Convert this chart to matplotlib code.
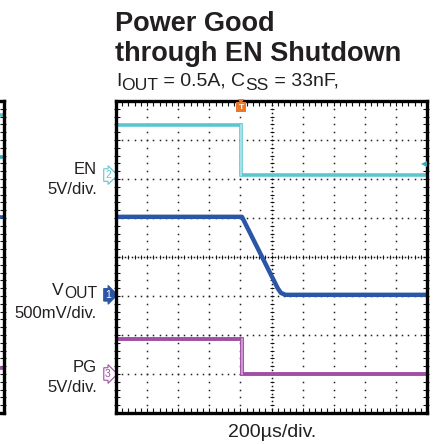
import numpy as np
import matplotlib.pyplot as plt

plt.rcParams['font.family'] = ['Liberation Sans', 'DejaVu Sans']

# scope traces, in divisions (x: 0..10, y: 0..8)
en_t = [0, 4.02, 4.02, 10]
en_v = [7.38, 7.38, 6.1, 6.1]
vout_t = [0, 4.05, 5.2, 5.3, 5.45, 10]
vout_v = [5.03, 5.03, 3.2, 3.08, 3.03, 3.03]
pg_t = [0, 4.05, 4.05, 10]
pg_v = [1.9, 1.9, 1.0, 1.0]
trig_t = 4.02

# channel reference markers (label, level)
ch_labels = ["2", "1", "3"]
ch_levels = [6.1, 3.03, 1.0]

# stubs of the neighbouring chart at the left edge
nb_levels = [7.64, 6.56, 5.03, 1.15]

CYAN = '#5cc6d0'
BLUE = '#2b55a6'
PURPLE = '#a04fa6'
ORANGE = '#e8782e'
INK = '#231f20'

W, H = 433, 444
fig = plt.figure(figsize=(W / 100, H / 100), dpi=100)
renderer = fig.canvas.get_renderer()


def rich_text(x, y, parts, size, ha='left', sub_scale=0.9, sub_dy=3.5):
    # parts: list of (string, is_subscript); x, y in pixels, y = baseline from top
    pieces = []
    for s, sub in parts:
        fs = size * sub_scale if sub else size
        t = fig.text(0, 0, s, fontsize=fs, va='baseline', ha='left', color=INK)
        w = t.get_window_extent(renderer).width
        pieces.append((t, w, sub))
    total = sum(w for _, w, _ in pieces)
    cx = x - total if ha == 'right' else x
    for t, w, sub in pieces:
        dy = sub_dy if sub else 0
        t.set_position((cx / W, 1 - (y + dy) / H))
        cx += w


ax = fig.add_axes([116 / W, (444 - 413) / H, 311 / W, 312 / H])
ax.set_xlim(0, 10)
ax.set_ylim(0, 8)
ax.set_xticks([])
ax.set_yticks([])
for s in ax.spines.values():
    s.set_linewidth(2.4)
    s.set_zorder(10)

# dotted graticule
step = 0.2
for gx in range(1, 10):
    if gx == 5:
        continue
    ys = np.arange(step, 8, step)
    ax.plot(np.full_like(ys, gx), ys, ls='none', marker='s', ms=1.1, mew=0, color='#222222')
for gy in range(1, 8):
    if gy == 4:
        continue
    xs = np.arange(step, 10, step)
    ax.plot(xs, np.full_like(xs, gy), ls='none', marker='s', ms=1.1, mew=0, color='#222222')

# centre cross: dense dots and tick marks
xs = np.arange(0.1, 10, 0.1)
ax.plot(xs, np.full_like(xs, 4), ls='none', marker='s', ms=1.1, mew=0, color='#111111')
ys = np.arange(0.1, 8, 0.1)
ax.plot(np.full_like(ys, 5), ys, ls='none', marker='s', ms=1.1, mew=0, color='#111111')
xs = np.arange(step, 10, step)
ax.plot(xs, np.full_like(xs, 4), ls='none', marker='|', ms=3.5, mew=0.7, color='#111111')
ys = np.arange(step, 8, step)
ax.plot(np.full_like(ys, 5), ys, ls='none', marker='_', ms=3.5, mew=0.7, color='#111111')

# inward ticks on the frame
xs = np.arange(step, 10, step)
ax.plot(xs, np.full_like(xs, 0.04), ls='none', marker='|', ms=4, mew=0.8, color='#111111', clip_on=False)
ax.plot(xs, np.full_like(xs, 7.96), ls='none', marker='|', ms=4, mew=0.8, color='#111111', clip_on=False)
ys = np.arange(step, 8, step)
ax.plot(np.full_like(ys, 0.03), ys, ls='none', marker='_', ms=4, mew=0.8, color='#111111', clip_on=False)
ax.plot(np.full_like(ys, 9.97), ys, ls='none', marker='_', ms=4, mew=0.8, color='#111111', clip_on=False)

# traces
ax.plot(en_t, en_v, color=CYAN, lw=2.6, solid_joinstyle='miter', zorder=5)
ax.plot(pg_t, pg_v, color=PURPLE, lw=2.8, solid_joinstyle='miter', zorder=5)
ax.plot(vout_t, vout_v, color=BLUE, lw=3.2, zorder=5)
ax.plot([en_t[1]] * 2, en_v[1:3], color='#b8e6ea', lw=1.2, zorder=6)
ax.plot([pg_t[1]] * 2, pg_v[1:3], color='#d6a6d8', lw=1.2, zorder=6)

# trigger and right-side level marker
ax.plot(trig_t, 7.84, marker='s', ms=7, color=ORANGE, mew=0, clip_on=False, zorder=12)
ax.text(trig_t, 7.84, 'T', color='white', fontsize=6, fontweight='bold',
        ha='center', va='center', zorder=13)
ax.plot(trig_t, 7.98, marker='v', ms=4, color=ORANGE, mew=0, clip_on=False, zorder=12)
ax.plot(9.9, 6.38, marker='<', ms=5, color='#3aa8b2', mew=0, zorder=12)

# channel markers
styles = [(CYAN, 'white', CYAN), (BLUE, BLUE, 'white'), (PURPLE, 'white', PURPLE)]
for lab, lev, (ec, fc, tc) in zip(ch_labels, ch_levels, styles):
    ax.text(-0.26, lev, lab, fontsize=7.5, color=tc, ha='center', va='center',
            clip_on=False, bbox=dict(boxstyle='rarrow,pad=0.12', fc=fc, ec=ec, lw=0.8))

# channel labels
fig.text(97 / W, 1 - 170 / H, 'EN', fontsize=12, ha='right', va='center', color=INK)
fig.text(97 / W, 1 - 189 / H, '5V/div.', fontsize=12, ha='right', va='center', color=INK)
rich_text(97, 295, [('V', False), ('OUT', True)], 12.5, ha='right', sub_dy=3)
fig.text(97 / W, 1 - 314 / H, '500mV/div.', fontsize=12, ha='right', va='center', color=INK)
fig.text(97 / W, 1 - 368 / H, 'PG', fontsize=12, ha='right', va='center', color=INK)
fig.text(97 / W, 1 - 387 / H, '5V/div.', fontsize=12, ha='right', va='center', color=INK)

fig.text(272 / W, 1 - 432 / H, '200µs/div.', fontsize=14, ha='center', va='center', color=INK)

# title
fig.text(115 / W, 1 - 31 / H, 'Power Good', fontsize=19.5, fontweight='bold',
         ha='left', va='baseline', color=INK)
fig.text(115 / W, 1 - 61 / H, 'through EN Shutdown', fontsize=19.5, fontweight='bold',
         ha='left', va='baseline', color=INK)
rich_text(116, 86, [('I', False), ('OUT', True), (' = 0.5A, C', False), ('SS', True),
                    (' = 33nF,', False)], 14)

# neighbouring chart cut off at the left edge
axl = fig.add_axes([-0.5, (444 - 413) / H, 0.5 + 4 / W, 312 / H])
axl.set_xlim(0, 10)
axl.set_ylim(0, 8)
axl.set_xticks([])
axl.set_yticks([])
for s in axl.spines.values():
    s.set_linewidth(2.4)
ys = np.arange(step, 8, step)
axl.plot(np.full_like(ys, 9.97), ys, ls='none', marker='_', ms=4, mew=0.8, color='#111111', clip_on=False)
nb_colors = [CYAN, '#3aa8b2', BLUE, PURPLE]
for lev, c in zip(nb_levels, nb_colors):
    axl.plot([9.0, 10], [lev, lev], color=c, lw=2.6)

fig.savefig('out.png', dpi=100)
